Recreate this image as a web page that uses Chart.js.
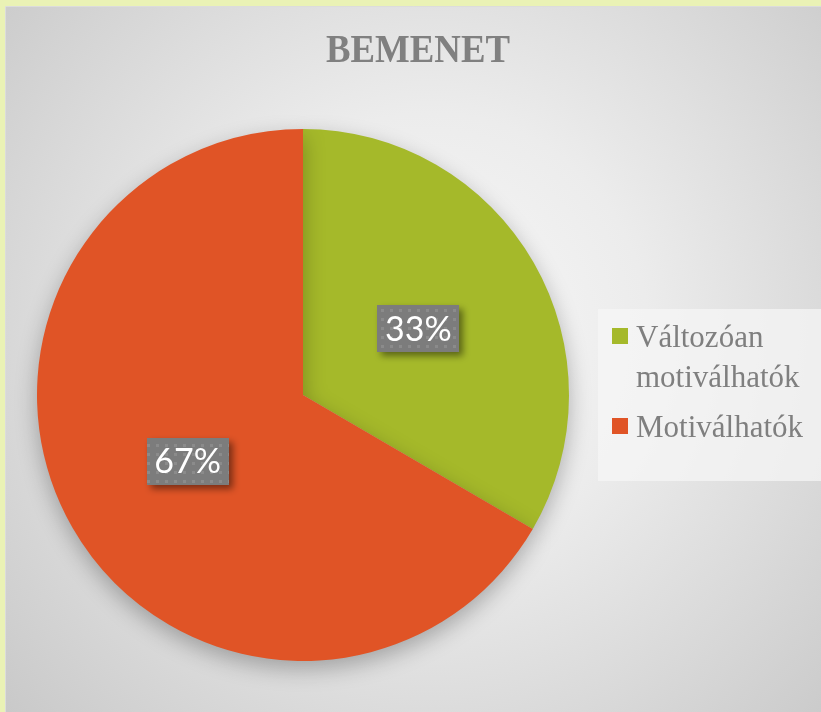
<!DOCTYPE html>
<html>
<head>
<meta charset="utf-8">
<script src="https://cdn.jsdelivr.net/npm/chart.js@4.4.1/dist/chart.umd.min.js"></script>
<style>
  html, body { margin: 0; padding: 0; background: #eaf2b5; }
  #wrap { width: 821px; height: 712px; position: relative; }
</style>
</head>
<body>
<div id="wrap"><canvas id="chart" width="821" height="712"></canvas></div>
<script>
// Pie chart "BEMENET"

const chartTitle = 'BEMENET';
const categories = ['Változóan motiválhatók', 'Motiválhatók'];
const legendLines = [['Változóan', 'motiválhatók'], ['Motiválhatók']];
const values = [33.4, 66.6];
const valueLabels = ['33%', '67%'];
const sliceColors = ['#a5b92a', '#e05426'];

// Background: yellow frame + radial gray gradient
const backgroundPlugin = {
    id: 'background',
    beforeDraw(chart) {
        const ctx = chart.ctx;
        ctx.save();
        ctx.fillStyle = '#eaf2b5';
        ctx.fillRect(0, 0, chart.width, chart.height);
        const g = ctx.createRadialGradient(430, 330, 0, 430, 330, 620);
        g.addColorStop(0, '#f8f8f8');
        g.addColorStop(0.35, '#ececec');
        g.addColorStop(1, '#c4c4c4');
        ctx.fillStyle = g;
        ctx.fillRect(6, 7, chart.width - 6, chart.height - 7);
        ctx.strokeStyle = '#dcdcdc';
        ctx.lineWidth = 1;
        ctx.beginPath();
        ctx.moveTo(5.5, chart.height);
        ctx.lineTo(5.5, 6.5);
        ctx.lineTo(chart.width, 6.5);
        ctx.stroke();

        // title (condensed look)
        ctx.font = 'bold 41px "Liberation Serif", "Times New Roman", serif';
        ctx.fillStyle = '#808080';
        ctx.textBaseline = 'alphabetic';
        ctx.textAlign = 'center';
        const w = ctx.measureText(chartTitle).width;
        const sx = Math.min(1, 184 / w);
        ctx.translate(418, 62);
        ctx.scale(sx, 1);
        ctx.fillText(chartTitle, 0, 0);
        ctx.restore();

        // legend box
        ctx.save();
        ctx.fillStyle = 'rgba(246,246,246,0.75)';
        ctx.fillRect(598, 309, chart.width - 598, 172);
        ctx.restore();
    },
    beforeDatasetsDraw(chart) {
        const ctx = chart.ctx;
        ctx.save();
        ctx.shadowColor = 'rgba(0,0,0,0.28)';
        ctx.shadowBlur = 22;
        ctx.shadowOffsetX = 0;
        ctx.shadowOffsetY = 8;
    },
    afterDatasetsDraw(chart) {
        chart.ctx.restore();
    }
};

function dotPattern(ctx) {
    const tile = document.createElement('canvas');
    tile.width = 9;
    tile.height = 9;
    const t = tile.getContext('2d');
    t.fillStyle = '#7c7c7c';
    t.fillRect(0, 0, 9, 9);
    t.fillStyle = '#8b8b8b';
    t.fillRect(3, 3, 3, 3);
    return ctx.createPattern(tile, 'repeat');
}

// Percentage labels in gray boxes + custom legend
const labelPlugin = {
    id: 'boxLabels',
    afterDraw(chart) {
        const ctx = chart.ctx;
        const meta = chart.getDatasetMeta(0);
        const pattern = dotPattern(ctx);
        meta.data.forEach((arc, i) => {
            const p = arc.getCenterPoint();
            const bw = 82, bh = 47;
            ctx.save();
            ctx.shadowColor = 'rgba(0,0,0,0.45)';
            ctx.shadowBlur = 7;
            ctx.shadowOffsetX = 4;
            ctx.shadowOffsetY = 4;
            ctx.fillStyle = pattern;
            ctx.fillRect(Math.round(p.x - bw / 2), Math.round(p.y - bh / 2), bw, bh);
            ctx.restore();
            ctx.save();
            ctx.font = '34px Lato, "Open Sans", sans-serif';
            ctx.fillStyle = '#ffffff';
            ctx.textAlign = 'center';
            ctx.textBaseline = 'middle';
            ctx.fillText(valueLabels[i], p.x, p.y + 1);
            ctx.restore();
        });

        // legend
        ctx.save();
        ctx.font = '31px "Liberation Serif", "Times New Roman", serif';
        ctx.textBaseline = 'alphabetic';
        ctx.textAlign = 'left';
        let y = 347;
        legendLines.forEach((lines, i) => {
            ctx.fillStyle = sliceColors[i];
            ctx.fillRect(612, y - 19, 16, 16);
            ctx.fillStyle = '#7f7f7f';
            lines.forEach(line => {
                ctx.fillText(line, 636, y);
                y += 40;
            });
            y += 10;
        });
        ctx.restore();
    }
};

new Chart(document.getElementById('chart'), {
    type: 'pie',
    data: {
        labels: categories,
        datasets: [{
            data: values,
            backgroundColor: sliceColors,
            borderWidth: 0,
            hoverOffset: 0
        }]
    },
    options: {
        responsive: false,
        animation: false,
        events: [],
        layout: {
            padding: { left: 37, right: 252, top: 129, bottom: 51 }
        },
        plugins: {
            legend: { display: false },
            title: { display: false },
            tooltip: { enabled: false }
        }
    },
    plugins: [backgroundPlugin, labelPlugin]
});
</script>
</body>
</html>
